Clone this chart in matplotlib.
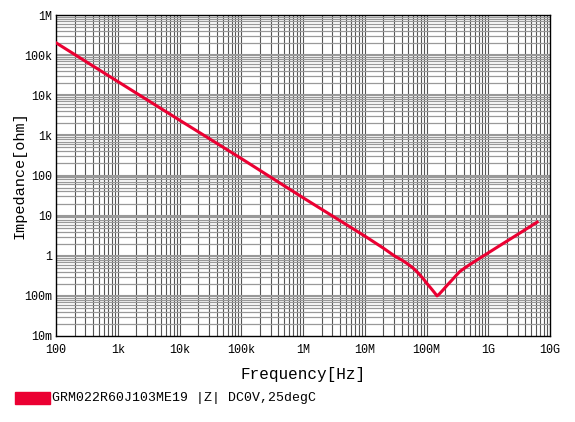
import numpy as np
import matplotlib
matplotlib.use("Agg")
import matplotlib.pyplot as plt
from matplotlib.patches import Rectangle

freq_hz = [1e2, 1e3, 1e4, 1e5, 1e6, 3e6, 1e7, 2e7, 3e7, 4e7, 5e7, 6e7, 7e7, 8e7, 9e7, 1e8,
           1.2e8, 1.35e8, 1.48e8, 1.6e8, 1.85e8, 2.2e8, 2.6e8, 3e8, 3.5e8, 4.2e8, 5e8,
           7.4e8, 1.5e9, 2.5e9, 4e9, 6.2e9]
imp_ohm = [2.03e5, 2.2e4, 2.4e3, 2.65e2, 28.0, 9.8, 3.1, 1.55, 1.0, 0.78, 0.62, 0.5, 0.4,
           0.32, 0.26, 0.21, 0.15, 0.12, 0.1, 0.11, 0.14, 0.19, 0.25, 0.32, 0.41, 0.5, 0.6,
           0.88, 1.75, 2.86, 4.5, 6.9]

x_ticks = [1e2, 1e3, 1e4, 1e5, 1e6, 1e7, 1e8, 1e9, 1e10]
x_labels = ["100", "1k", "10k", "100k", "1M", "10M", "100M", "1G", "10G"]
y_ticks = [1e-2, 1e-1, 1, 10, 100, 1e3, 1e4, 1e5, 1e6]
y_labels = ["10m", "100m", "1", "10", "100", "1k", "10k", "100k", "1M"]

legend_text = "GRM022R60J103ME19 |Z| DC0V,25degC"
red = "#EB0032"

plt.rcParams['font.family'] = ['Liberation Mono', 'DejaVu Sans Mono']

fig = plt.figure(figsize=(5.75, 4.22), dpi=100)
ax = fig.add_axes([56/575, 1-336/422, 494/575, 321/422])
ax.set_xscale("log")
ax.set_yscale("log")
ax.set_xlim(1e2, 1e10)
ax.set_ylim(1e-2, 1e6)

# grid: every 1..9 per decade
for dec in range(2, 10):
    for m in range(1, 10):
        v = m * 10.0**dec
        if 1e2 < v < 1e10:
            ax.axvline(v, color="#555555", lw=0.8, zorder=1)
for dec in range(-2, 6):
    for m in range(1, 10):
        v = m * 10.0**dec
        if 1e-2 < v < 1e6:
            ax.axhline(v, color="#999999", lw=1.5 if m == 1 else 0.9, zorder=1)

ax.plot(freq_hz, imp_ohm, color=red, lw=2.2, zorder=3, solid_joinstyle="round")

ax.set_xticks(x_ticks)
ax.set_xticklabels(x_labels)
ax.set_yticks(y_ticks)
ax.set_yticklabels(y_labels)
ax.minorticks_off()
ax.tick_params(length=0, labelsize=8.5)
ax.tick_params(axis="x", pad=6)
ax.tick_params(axis="y", pad=3)
for s in ax.spines.values():
    s.set_linewidth(1.0)
    s.set_color("black")

ax.set_xlabel("Frequency[Hz]", fontsize=11.5, labelpad=8)
ax.set_ylabel("Impedance[ohm]", fontsize=11, labelpad=-2)

# legend swatch + text at bottom
fig.patches.append(Rectangle((15/575, 1-404/422), 35/575, 12/422,
                             transform=fig.transFigure, color=red))
fig.text(52/575, 1-398/422, legend_text, fontsize=9.5, va="center", ha="left")

fig.savefig("out.png", dpi=100)
